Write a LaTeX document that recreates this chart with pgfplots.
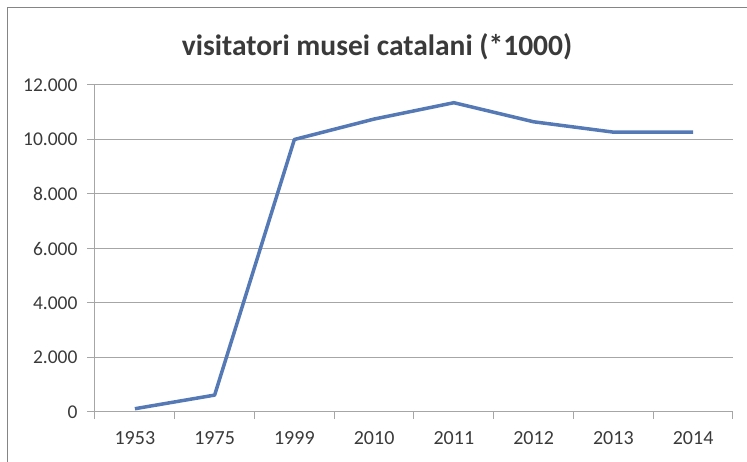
\documentclass[border=0pt]{standalone}
\usepackage{pgfplots}
\pgfplotsset{compat=1.18}
\usepackage{fontspec}
\setmainfont{Carlito}
\definecolor{lineblue}{HTML}{5479B5}
\definecolor{gridgray}{HTML}{A6A6A6}
\definecolor{txt}{HTML}{3A3A3A}
\begin{document}
\begin{tikzpicture}[x=1pt,y=1pt]
\useasboundingbox (0,0) rectangle (747,462);
\draw[gridgray!80!black, line width=1.5pt] (7.5,-5) -- (7.5,454.5) -- (760,454.5);
\node[txt, font=\fontsize{29.5}{34}\selectfont\bfseries] at (377,415) {visitatori musei catalani (*1000)};
\begin{axis}[
  at={(95pt,50pt)}, anchor=south west,
  scale only axis, width=638pt, height=327pt,
  xmin=-0.5, xmax=7.5, ymin=0, ymax=12000,
  xtick={0,...,7},
  xticklabels={1953,1975,1999,2010,2011,2012,2013,2014},
  minor xtick={-0.5,0.5,...,7.5},
  ytick={0,2000,...,12000},
  scaled y ticks=false,
  axis x line*=bottom, axis y line*=left,
  axis line style={gridgray, line width=1pt, -},
  tick align=outside,
  major x tick style={draw=none},
  minor x tick style={gridgray, line width=1pt},
  minor tick length=7pt,
  major y tick style={gridgray, line width=1pt},
  major tick length=8pt,
  ymajorgrids, grid style={gridgray, line width=1pt},
  ticklabel style={txt, font=\fontsize{19.5}{22}\selectfont},
  xticklabel style={yshift=-8pt, font=\fontsize{20}{22}\selectfont},
  yticklabel style={xshift=-6pt},
  yticklabel={\pgfmathprintnumber[fixed, precision=0, 1000 sep={.}, assume math mode=true]{\tick}},
]
\addplot[lineblue, line width=3.5pt, line join=round] coordinates {
(0,120) (1,620) (2,10000) (3,10750) (4,11350) (5,10650) (6,10270) (7,10270)};
\end{axis}
\end{tikzpicture}
\end{document}
